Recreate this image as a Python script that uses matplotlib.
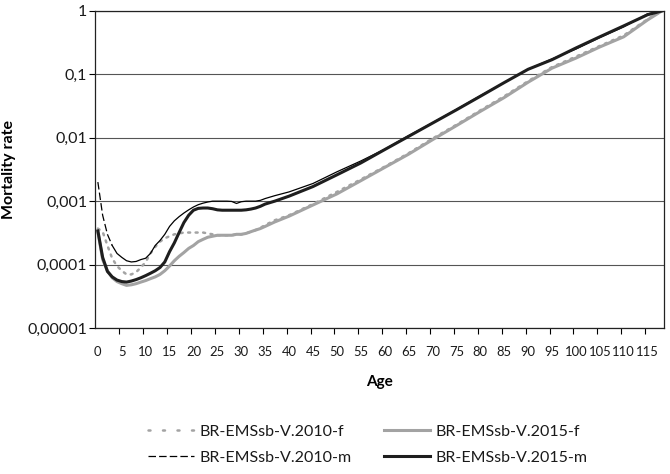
import numpy as np
import matplotlib
matplotlib.use("Agg")
from matplotlib import pyplot as plt
from matplotlib.lines import Line2D
from matplotlib.ticker import FixedLocator

# ages (categories) and mortality rates
ages = list(range(0, 36)) + [37, 40, 45, 50, 55, 60, 65, 70, 75, 80, 85, 90,
                             95, 100, 105, 110, 115, 118]

f2010 = [0.00037, 0.00033, 0.00020, 0.000125, 0.000095, 0.00008, 0.00007, 0.00007,
         0.000076, 0.00009, 0.00011, 0.00015, 0.00019, 0.00023, 0.00026, 0.00028,
         0.0003, 0.00031, 0.00032, 0.00032, 0.00032, 0.00032, 0.00032, 0.00031,
         0.0003, 0.00029, 0.00029, 0.00029, 0.00029, 0.0003, 0.0003, 0.00031,
         0.00033, 0.00035, 0.00038, 0.00042, 0.0005, 0.0006, 0.0009, 0.0014,
         0.0022, 0.0035, 0.0057, 0.0097, 0.016, 0.027, 0.045, 0.078,
         0.13, 0.19, 0.28, 0.41, 0.74, 1.0]

f2015 = [0.00033, 0.00012, 0.00008, 0.000062, 0.000054, 0.00005, 0.000047, 0.000048,
         0.00005, 0.000053, 0.000056, 0.00006, 0.000064, 0.00007, 0.00008, 0.000095,
         0.000115, 0.000135, 0.000155, 0.00018, 0.0002, 0.00023, 0.00025, 0.00027,
         0.00028, 0.00029, 0.00029, 0.00029, 0.00029, 0.0003, 0.0003, 0.00031,
         0.00033, 0.00035, 0.00037, 0.0004, 0.00047, 0.00058, 0.00087, 0.0013,
         0.0021, 0.0034, 0.0055, 0.0093, 0.0155, 0.026, 0.043, 0.075,
         0.125, 0.18, 0.27, 0.39, 0.72, 1.0]

m2010 = [0.002, 0.0006, 0.0003, 0.0002, 0.00015, 0.00013, 0.000115, 0.00011,
         0.000112, 0.00012, 0.000126, 0.00015, 0.0002, 0.00024, 0.0003, 0.0004,
         0.00049, 0.00057, 0.00065, 0.00073, 0.00081, 0.00088, 0.00093, 0.00097,
         0.001, 0.001, 0.001, 0.001, 0.00099, 0.00092, 0.00098, 0.001,
         0.001, 0.001, 0.00103, 0.0011, 0.00122, 0.0014, 0.0019, 0.0029,
         0.0043, 0.0066, 0.0108, 0.0172, 0.028, 0.046, 0.074, 0.12,
         0.175, 0.25, 0.38, 0.56, 0.9, 1.0]

m2015 = [0.00034, 0.00013, 0.000078, 0.000064, 0.000057, 0.000054, 0.000053, 0.000055,
         0.000058, 0.000062, 0.000067, 0.000073, 0.00008, 0.00009, 0.00011, 0.00016,
         0.00022, 0.00032, 0.00046, 0.0006, 0.00072, 0.00077, 0.00078, 0.00078,
         0.00076, 0.00073, 0.00072, 0.00072, 0.00072, 0.00072, 0.00072, 0.00073,
         0.00075, 0.00078, 0.00083, 0.0009, 0.001, 0.0012, 0.0017, 0.0026,
         0.004, 0.0065, 0.0105, 0.017, 0.0275, 0.045, 0.074, 0.12,
         0.17, 0.26, 0.39, 0.58, 0.87, 1.0]

names = ["BR-EMSsb-V.2010-f", "BR-EMSsb-V.2015-f", "BR-EMSsb-V.2010-m", "BR-EMSsb-V.2015-m"]
ytick_vals = [1e-5, 1e-4, 1e-3, 1e-2, 1e-1, 1]
ytick_labels = ["0,00001", "0,0001", "0,001", "0,01", "0,1", "1"]
xtick_vals = list(range(0, 116, 5))

plt.rcParams['font.family'] = ['Lato', 'DejaVu Sans']
plt.rcParams['text.color'] = '#1a1a1a'

fig = plt.figure(figsize=(6.7, 4.74), dpi=100)
ax = fig.add_axes([0.1425, 0.308, 0.849, 0.669])

gray = '#a3a3a3'
ax.plot(ages, f2010, color=gray, lw=1.8, linestyle=(0, (0.8, 2.2)),
        dash_capstyle='round', zorder=3)
ax.plot(ages, f2015, color=gray, lw=2.2, zorder=2)
# dashes only show on the long first segments, like the source chart
ax.plot(ages[:4], m2010[:4], color='black', lw=0.9, linestyle=(0, (6, 2.5)), zorder=4)
ax.plot(ages[3:], m2010[3:], color='black', lw=0.9, zorder=4)
ax.plot(ages, m2015, color='#1e1e1e', lw=2.2, zorder=5)

ax.set_yscale('log')
ax.set_ylim(1e-5, 1)
ax.set_xlim(-0.5, 118.5)
ax.yaxis.set_major_locator(FixedLocator(ytick_vals))
ax.yaxis.set_minor_locator(FixedLocator([]))
ax.set_yticklabels(ytick_labels)
ax.set_xticks(xtick_vals)
ax.set_xticklabels([str(v) for v in xtick_vals], fontsize=9.4)
ax.set_xticks([v - 0.5 for v in xtick_vals[1:]], minor=True)
ax.tick_params(axis='x', which='major', length=0, pad=13, labelcolor='#1a1a1a')
ax.tick_params(axis='x', which='minor', length=4, width=0.8, direction='out')
ax.tick_params(axis='y', which='major', length=4, width=0.8, pad=2, labelsize=11.5,
               labelcolor='#1a1a1a')

ax.grid(axis='y', which='major', color='#555555', lw=0.8)
for s in ax.spines.values():
    s.set_color('#222222')
    s.set_linewidth(0.9)

ax.set_xlabel('Age', fontsize=11, fontweight='bold', labelpad=12)
ax.set_ylabel('Mortality rate', fontsize=11.5, fontweight='bold', labelpad=8)

# legend samples: one segment each, so the patterns look like the source legend
handles = [
    Line2D([], [], color=gray, lw=1.8, linestyle=(0, (0.8, 5)), dash_capstyle='round'),
    Line2D([], [], color='black', lw=0.9, linestyle=(0, (6, 2.5))),
    Line2D([], [], color=gray, lw=2.2),
    Line2D([], [], color='#1e1e1e', lw=2.2),
]
labels = [names[0], names[2], names[1], names[3]]
fig.legend(handles, labels, ncol=2, loc='center',
           bbox_to_anchor=(0.549, 0.062), frameon=False, fontsize=11.5,
           handlelength=2.9, handletextpad=0.35, columnspacing=2.0, labelspacing=0.75)

fig.savefig('out.png', dpi=100)
